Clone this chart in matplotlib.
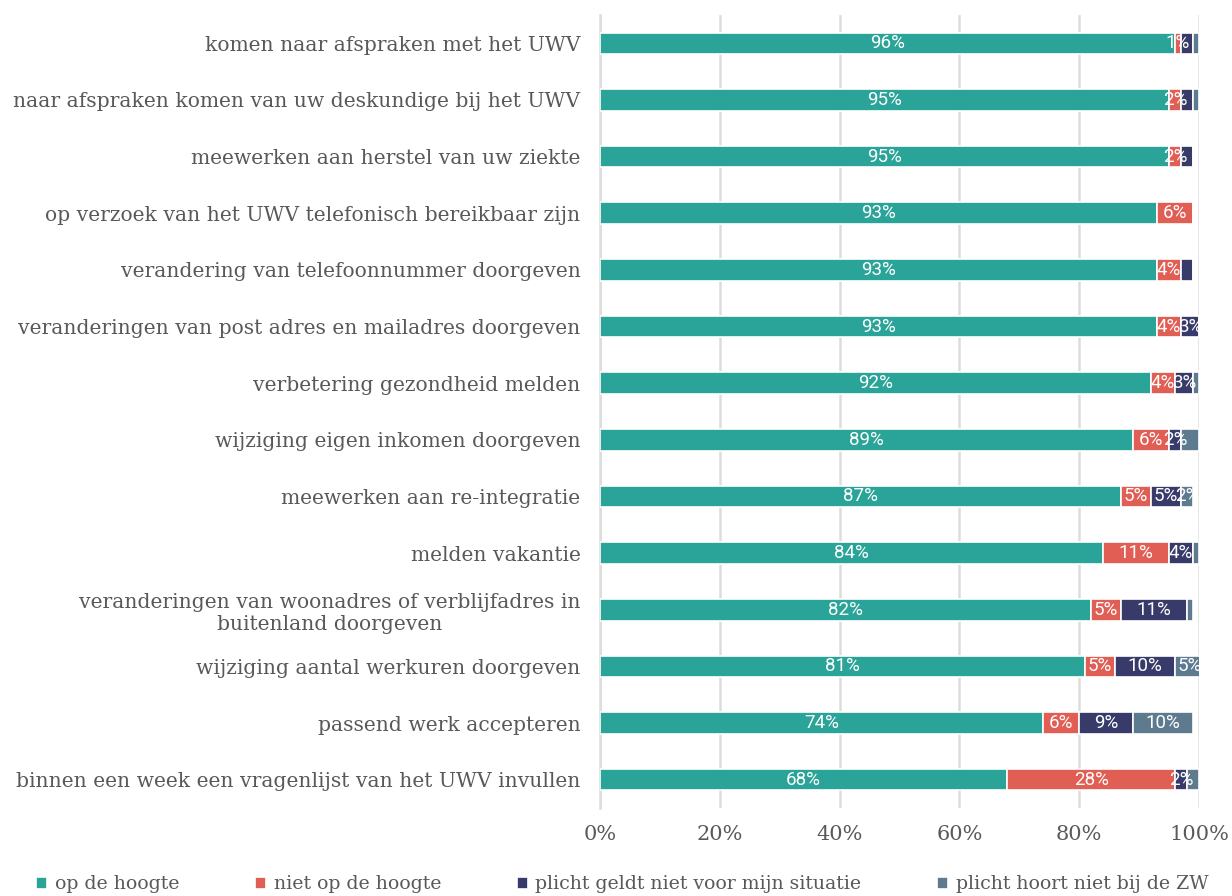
import matplotlib.pyplot as plt
import numpy as np

categories = [
    "komen naar afspraken met het UWV",
    "naar afspraken komen van uw deskundige bij het UWV",
    "meewerken aan herstel van uw ziekte",
    "op verzoek van het UWV telefonisch bereikbaar zijn",
    "verandering van telefoonnummer doorgeven",
    "veranderingen van post adres en mailadres doorgeven",
    "verbetering gezondheid melden",
    "wijziging eigen inkomen doorgeven",
    "meewerken aan re-integratie",
    "melden vakantie",
    "veranderingen van woonadres of verblijfadres in\nbuitenland doorgeven",
    "wijziging aantal werkuren doorgeven",
    "passend werk accepteren",
    "binnen een week een vragenlijst van het UWV invullen",
]
series_names = ["op de hoogte", "niet op de hoogte",
                "plicht geldt niet voor mijn situatie", "plicht hoort niet bij de ZW"]

op_de_hoogte = [96, 95, 95, 93, 93, 93, 92, 89, 87, 84, 82, 81, 74, 68]
niet_op_de_hoogte = [1, 2, 2, 6, 4, 4, 4, 6, 5, 11, 5, 5, 6, 28]
geldt_niet = [2, 2, 2, 0, 2, 3, 3, 2, 5, 4, 11, 10, 9, 2]
hoort_niet = [1, 1, 0, 0, 0, 0, 1, 3, 2, 1, 1, 5, 10, 2]

# which data labels are visible in the original (1 = shown)
show_geldt_niet = [0, 0, 0, 0, 0, 1, 1, 1, 1, 1, 1, 1, 1, 1]
show_hoort_niet = [0, 0, 0, 0, 0, 0, 0, 0, 1, 0, 0, 1, 1, 0]

colors = ["#2AA498", "#E05E54", "#383B6A", "#5E7A8F"]
text_grey = "#595959"

data = [op_de_hoogte, niet_op_de_hoogte, geldt_niet, hoort_niet]
shows = [[1] * 14, [1] * 14, show_geldt_niet, show_hoort_niet]

fig = plt.figure(figsize=(12.32, 8.96), dpi=100)
ax = fig.add_axes([600 / 1232, 1 - 808 / 896, 599 / 1232, 793 / 896])

y = np.arange(len(categories))
left = np.zeros(len(categories))
for vals, show, col, name in zip(data, shows, colors, series_names):
    vals = np.array(vals, dtype=float)
    bars = ax.barh(y, vals, left=left, height=0.38, color=col,
                   edgecolor="white", linewidth=1.2, label=name, zorder=3)
    for b, v, s in zip(bars, vals, show):
        if v > 0 and s:
            ax.text(b.get_x() + b.get_width() / 2, b.get_y() + b.get_height() / 2,
                    f"{int(v)}%", ha="center", va="center", color="white",
                    fontsize=13.5, family="Roboto", zorder=4)
    left += vals

ax.set_ylim(len(categories) - 0.5, -0.5)
ax.set_xlim(0, 100)
ax.set_xticks(np.arange(0, 101, 20))
ax.set_xticklabels([f"{t}%" for t in range(0, 101, 20)])
ax.set_yticks(y)
ax.set_yticklabels(categories, multialignment="center")
ax.tick_params(axis="y", length=0, pad=14, labelsize=14.6, labelcolor=text_grey)
ax.tick_params(axis="x", length=0, pad=12, labelsize=15, labelcolor=text_grey)
for lab in ax.get_xticklabels() + ax.get_yticklabels():
    lab.set_family("DejaVu Serif")

ax.grid(axis="x", color="#DDDDDD", linewidth=1.8, zorder=0)
for s in ["top", "right", "bottom"]:
    ax.spines[s].set_visible(False)
ax.spines["left"].set_color("#DDDDDD")
ax.spines["left"].set_linewidth(1.8)

fig.legend(loc="lower center", ncol=4, frameon=False, bbox_to_anchor=(0.505, -0.016),
           handlelength=0.6, handleheight=0.6, handletextpad=0.4, columnspacing=4.0,
           prop={"family": "DejaVu Serif", "size": 13.6}, labelcolor=text_grey)

fig.savefig("out.png", dpi=100)
